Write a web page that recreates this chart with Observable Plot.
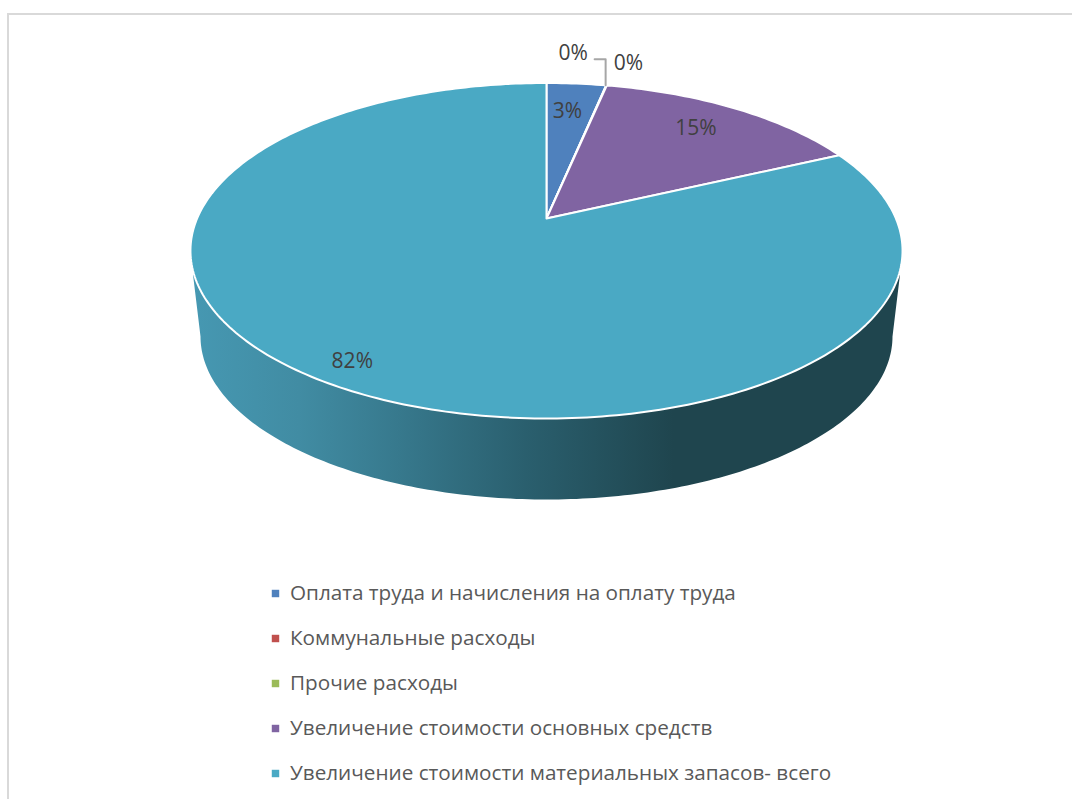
<!DOCTYPE html>
<html><head><meta charset="utf-8">
<script src="https://cdn.jsdelivr.net/npm/d3@7"></script>
<script src="https://cdn.jsdelivr.net/npm/@observablehq/plot@0.6"></script>
<style>html,body{margin:0;padding:0;background:#fff}svg{display:block}</style>
</head><body><div id="chart"></div>
<script>
const categories = ["Оплата труда и начисления на оплату труда","Коммунальные расходы","Прочие расходы","Увеличение стоимости основных средств","Увеличение стоимости материальных запасов- всего"];
const shares = [3.25, 0.02, 0.02, 14.76, 81.95];
const shareLabels = ["3%","0%","0%","15%","82%"];
const colors = ["#4f81bd","#c0504d","#9bbb59","#8064a2","#4aa9c4"];

const W = 1072, H = 799;
// perspective view of the disc
const cx = 546, apexY = 218, R = 349.4, k = 0.1922, b = -119.64;
const project = (frac, r = 1) => {
  const t = frac * 2 * Math.PI, u = r * Math.sin(t), v = r * Math.cos(t), d = 1 + k * v;
  return {x: cx + R * u / d, y: (apexY + b * v) / d};
};
const total = d3.sum(shares);
let acc = 0;
const slices = shares.map((s, i) => { const a = acc / total; acc += s; return {i, name: categories[i], a0: a, a1: acc / total, mid: a + (acc / total - a) / 2}; });
const outline = slices.flatMap(s => {
  const n = Math.max(2, Math.ceil((s.a1 - s.a0) * 360));
  const pts = [{name: s.name, x: cx, y: apexY}];
  for (let j = 0; j <= n; j++) pts.push({name: s.name, ...project(s.a0 + (s.a1 - s.a0) * j / n)});
  pts.push({name: s.name, x: cx, y: apexY});
  return pts;
});
// extruded wall: lower half of the floor ellipse joined to the rim tangents
const floor = {cy: 336, rx: 346, ry: 163};
const wall = [{x: 192.5, y: 274}];
for (let d = 180; d >= 0; d -= 1) wall.push({x: cx + floor.rx * Math.cos(d * Math.PI / 180), y: floor.cy + floor.ry * Math.sin(d * Math.PI / 180)});
wall.push({x: 899.5, y: 274}, {x: cx, y: 250});

const at = (text, p, dx, dy) => ({text, x: p.x + dx, y: p.y + dy});
const lbl = [
  at(shareLabels[0], project(slices[0].mid, .77), -3, 1),
  at(shareLabels[1], project(slices[1].a0), -33, -32),
  at(shareLabels[2], project(slices[2].a0), 22, -22),
  at(shareLabels[3], project(slices[3].mid, .78), -2, -2),
  at(shareLabels[4], project(slices[4].mid, .89), 1, 1)
];
const P0 = project(slices[1].a0);
const leader = [{x: P0.x - 0.5, y: P0.y}, {x: P0.x - 0.5, y: P0.y - 26}, {x: P0.x - 11.5, y: P0.y - 26}];
const legendRows = categories.map((name, i) => ({name, x: 275, y: 593 + i * 45}));

const gradient = () => {
  const ns = "http://www.w3.org/2000/svg";
  const defs = document.createElementNS(ns, "defs");
  const g = document.createElementNS(ns, "linearGradient");
  g.setAttribute("id", "wallGrad"); g.setAttribute("gradientUnits", "userSpaceOnUse");
  g.setAttribute("x1", 192); g.setAttribute("x2", 900); g.setAttribute("y1", 0); g.setAttribute("y2", 0);
  [[0, "#4698b2"], [0.15, "#418ca3"], [0.29, "#37798d"], [0.47, "#2a5f6e"], [0.68, "#1f454e"], [1, "#1f454e"]].forEach(([o, c]) => {
    const st = document.createElementNS(ns, "stop"); st.setAttribute("offset", o); st.setAttribute("stop-color", c); g.appendChild(st);
  });
  defs.appendChild(g); return defs;
};

const chart = Plot.plot({
  width: W, height: H, margin: 0,
  x: {domain: [0, W], range: [0, W], axis: null},
  y: {domain: [0, H], range: [0, H], axis: null},
  color: {domain: categories, range: colors},
  style: {background: "#fff", overflow: "hidden"},
  marks: [
    gradient,
    Plot.ruleX([7.5], {stroke: "#d9d9d9", strokeWidth: 2, y1: 13, y2: H}),
    Plot.ruleY([13.5], {stroke: "#d9d9d9", strokeWidth: 2, x1: 7, x2: W}),
    Plot.line(wall, {x: "x", y: "y", fill: "url(#wallGrad)", stroke: "none"}),
    Plot.line(outline, {x: "x", y: "y", z: "name", fill: "name", stroke: "#fff", strokeWidth: 2, strokeLinejoin: "round"}),
    Plot.line(leader, {x: "x", y: "y", stroke: "#a6a6a6", strokeWidth: 2}),
    Plot.text(lbl, {x: "x", y: "y", text: "text", fontFamily: "Open Sans", fontSize: 21, fill: "#404040"}),
    Plot.dot(legendRows, {x: "x", y: "y", fill: "name", symbol: "square", r: 4.2}),
    Plot.text(legendRows, {x: d => d.x + 14.5, y: "y", text: "name", textAnchor: "start", fontFamily: "Open Sans", fontSize: 20.7, fill: "#595959"})
  ]
});
document.getElementById("chart").appendChild(chart);
</script></body></html>
